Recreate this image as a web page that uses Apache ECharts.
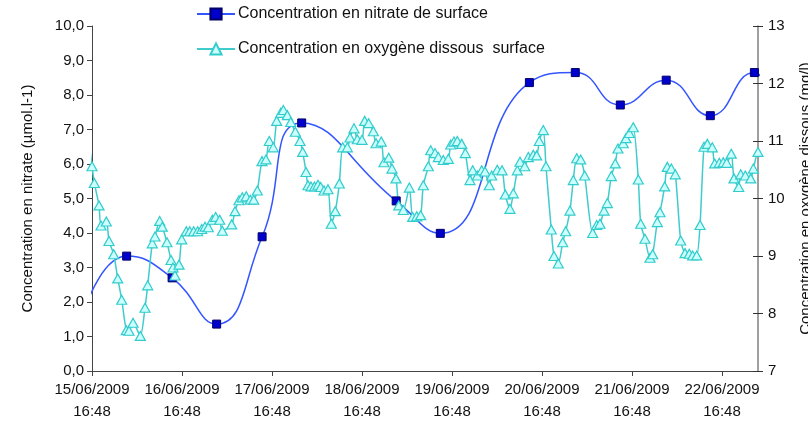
<!DOCTYPE html>
<html><head><meta charset="utf-8">
<script src="https://cdn.jsdelivr.net/npm/echarts@6/dist/echarts.min.js"></script>
<style>html,body{margin:0;padding:0;background:#fff}#c{width:808px;height:424px}</style>
</head><body><div id="c"></div>
<script>
// x values: days since 15/06/2009 16:48
var xTickLabels = ['15/06/2009\n16:48','16/06/2009\n16:48','17/06/2009\n16:48','18/06/2009\n16:48','19/06/2009\n16:48','20/06/2009\n16:48','21/06/2009\n16:48','22/06/2009\n16:48'];
var xTickValues = [0,1,2,3,4,5,6,7];

var nitrateDays   = [-0.05, 0.385, 0.89, 1.385, 1.89, 2.33, 3.38, 3.87, 4.86, 5.37, 5.87, 6.38, 6.87, 7.36, 7.48];
var nitrateValues = [2.0, 3.33, 2.70, 1.36, 3.89, 7.19, 4.93, 3.99, 8.36, 8.65, 7.71, 8.43, 7.40, 8.65, 8.39];

var oxyDays = [-0.052,0.00,0.026,0.078,0.10,0.159,0.189,0.241,0.286,0.33,0.381,0.411,0.456,0.537,0.589,0.619,0.67,0.70,0.752,0.781,0.833,0.878,0.90,0.922,0.967,0.997,1.048,1.086,1.13,1.174,1.219,1.256,1.292,1.337,1.374,1.419,1.448,1.552,1.589,1.633,1.67,1.714,1.759,1.797,1.837,1.889,1.933,1.97,2.014,2.052,2.097,2.126,2.17,2.208,2.259,2.311,2.341,2.378,2.40,2.433,2.472,2.511,2.541,2.578,2.622,2.659,2.703,2.748,2.786,2.837,2.867,2.911,2.948,3.0,3.03,3.074,3.126,3.156,3.214,3.244,3.297,3.333,3.378,3.408,3.459,3.526,3.563,3.608,3.652,3.681,3.737,3.763,3.811,3.848,3.903,3.959,3.986,4.022,4.059,4.108,4.148,4.20,4.23,4.281,4.33,4.367,4.414,4.441,4.503,4.556,4.592,4.644,4.681,4.726,4.756,4.808,4.848,4.903,4.941,4.97,5.014,5.044,5.103,5.133,5.181,5.23,5.263,5.311,5.348,5.386,5.43,5.474,5.563,5.608,5.644,5.689,5.726,5.77,5.814,5.844,5.903,5.933,5.97,6.014,6.07,6.097,6.144,6.20,6.23,6.281,6.311,6.363,6.392,6.437,6.481,6.541,6.589,6.637,6.674,6.719,6.756,6.80,6.837,6.892,6.919,6.97,7.014,7.052,7.103,7.133,7.186,7.208,7.259,7.319,7.348,7.40,7.478];
var oxyValues = [11.2,10.56,10.27,9.88,9.53,9.60,9.26,9.03,8.61,8.24,7.71,7.70,7.84,7.61,8.10,8.49,9.22,9.34,9.61,9.51,9.24,8.93,8.80,8.66,8.85,9.29,9.43,9.43,9.43,9.43,9.47,9.51,9.50,9.63,9.68,9.63,9.44,9.55,9.78,9.97,10.02,10.04,9.98,9.98,10.14,10.65,10.68,11.00,10.89,11.35,11.49,11.54,11.45,11.33,11.16,11.00,10.81,10.46,10.23,10.21,10.21,10.24,10.20,10.14,10.16,9.56,9.78,10.26,10.89,10.89,11.06,11.22,11.03,11.02,11.35,11.31,11.17,10.96,10.99,10.63,10.71,10.52,10.35,9.88,9.80,10.19,9.68,9.69,9.71,10.23,10.56,10.84,10.79,10.72,10.67,10.69,10.94,10.99,11.00,10.95,10.79,10.32,10.49,10.40,10.49,10.47,10.23,10.40,10.50,10.49,10.07,9.82,10.09,10.49,10.64,10.56,10.72,10.76,10.75,11.00,11.19,10.56,9.46,9.00,8.87,9.24,9.43,9.79,10.32,10.70,10.68,10.40,9.40,9.54,9.56,9.79,9.92,10.39,10.61,10.87,10.96,11.05,11.14,11.24,10.33,9.56,9.30,8.97,9.03,9.59,9.76,10.21,10.55,10.52,10.42,9.27,9.05,9.04,9.01,9.01,9.54,10.90,10.95,10.89,10.61,10.62,10.63,10.62,10.78,10.35,10.20,10.42,10.40,10.35,10.52,10.81,10.40];

var X_MIN = 0, X_MAX = 7.4;

function build(days, vals) {
  return days.map(function (d, i) {
    var item = { value: [d, vals[i]] };
    if (d < X_MIN || d > X_MAX + 0.02) item.symbol = 'none';
    return item;
  });
}

var FONT = 'Liberation Sans, Arial, sans-serif';
var chart = echarts.init(document.getElementById('c'), null, { renderer: 'canvas' });
chart.setOption({
  animation: false,
  textStyle: { fontFamily: FONT },
  legend: {
    orient: 'vertical', left: 191, top: 1, itemWidth: 38, itemHeight: 14, itemGap: 19,
    textStyle: { fontFamily: FONT, fontSize: 16, color: '#111', padding: [0, 0, 0, -2] },
    data: ['Concentration en nitrate de surface', 'Concentration en oxygène dissous  surface']
  },
  grid: { left: 92, right: 50, top: 26, bottom: 53, containLabel: false, outerBoundsMode: 'none' },
  xAxis: {
    type: 'value', min: X_MIN, max: X_MAX,
    axisLine: { lineStyle: { color: '#444', width: 1 } },
    axisTick: { show: true, length: 5, customValues: xTickValues, lineStyle: { color: '#444' } },
    axisLabel: {
      customValues: xTickValues, fontSize: 15, color: '#111', lineHeight: 22, margin: 8,
      formatter: function (v) { return xTickLabels[Math.round(v)]; }
    },
    splitLine: { show: false }
  },
  yAxis: [
    {
      type: 'value', position: 'left', min: 0, max: 10, interval: 1,
      name: 'Concentration en nitrate (µmol.l-1)', nameLocation: 'middle', nameGap: 57, nameRotate: 90,
      nameTextStyle: { fontSize: 15, color: '#111' },
      axisLine: { show: true, lineStyle: { color: '#444' } },
      axisTick: { show: true, length: 5, lineStyle: { color: '#444' } },
      axisLabel: { fontSize: 15, color: '#111', margin: 8, formatter: function (v) { return v.toFixed(1).replace('.', ','); } },
      splitLine: { show: false }
    },
    {
      type: 'value', position: 'right', min: 7, max: 13, interval: 1,
      name: 'Concentration en oxygène dissous (mg/l)', nameLocation: 'middle', nameGap: 40, nameRotate: 90,
      nameTextStyle: { fontSize: 15, color: '#111' },
      axisLine: { show: true, lineStyle: { color: '#808080', width: 1.5 } },
      axisTick: { show: true, length: 5, lineStyle: { color: '#333' } },
      axisLabel: { fontSize: 15, color: '#111', margin: 10 },
      splitLine: { show: false }
    },
    {
      type: 'value', position: 'right', min: 7, max: 13, interval: 1,
      axisLine: { show: false },
      axisTick: { show: true, inside: true, length: 5, lineStyle: { color: '#333' } },
      axisLabel: { show: false },
      splitLine: { show: false }
    }
  ],
  series: [
    {
      name: 'Concentration en nitrate de surface', type: 'line', yAxisIndex: 0,
      data: build(nitrateDays, nitrateValues), smooth: 0.5, clip: false,
      symbol: 'rect', symbolSize: 8,
      lineStyle: { color: '#3355ff', width: 1.5 },
      itemStyle: { color: '#0000cc', borderColor: '#000066', borderWidth: 1 }
    },
    {
      name: 'Concentration en oxygène dissous  surface', type: 'line', yAxisIndex: 1,
      data: build(oxyDays, oxyValues), smooth: 0.25, clip: false,
      symbol: 'triangle', symbolSize: [10, 9],
      lineStyle: { color: '#40cccc', width: 1.5 },
      itemStyle: { color: '#ccffff', borderColor: '#33cccc', borderWidth: 1.2 }
    }
  ]
});
</script></body></html>
